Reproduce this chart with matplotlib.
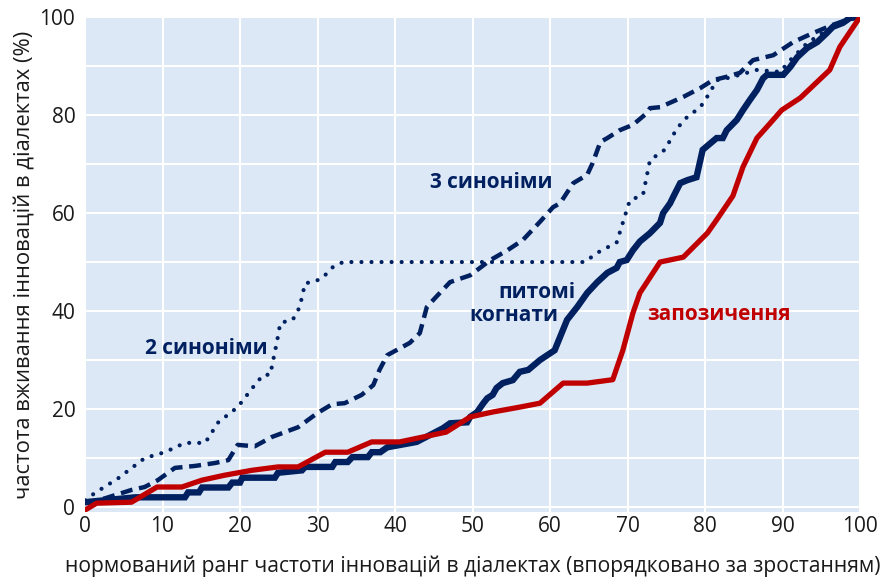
import matplotlib
matplotlib.use('Agg')
import matplotlib.pyplot as plt

plt.rcParams['font.family'] = ['Open Sans', 'DejaVu Sans']

# 2 синоніми (пунктир з крапок)
syn2_x = [0, 1.3, 4.3, 7.7, 10.3, 12.9, 15.5, 17.2, 19.7, 21.7, 23.0, 23.9, 24.8, 25.2, 26.8,
          27.7, 28.4, 29.4, 30.6, 32.0, 33.3, 64.5, 66.0, 68.6, 69.0, 69.9, 70.3, 72.0, 72.9,
          74.8, 76.4, 77.7, 79.4, 80.6, 81.5, 82.8, 84.5, 86.7, 89.7, 91.0, 93.2, 95.7, 98.7, 100]
syn2_y = [1.4, 2.9, 5.9, 10.0, 11.2, 13.1, 13.1, 17.3, 20.4, 24.5, 27.0, 27.0, 34.0, 37.6, 38.2,
          40.8, 45.7, 45.9, 46.7, 49.0, 50.0, 50.0, 51.8, 54.0, 56.0, 60.6, 62.6, 63.7, 70.8,
          72.9, 77.3, 79.6, 81.6, 84.5, 87.1, 87.5, 88.2, 89.2, 88.8, 91.2, 94.7, 97.3, 99.8, 100]

# 3 синоніми (штрихова)
syn3_x = [0, 2.6, 6.0, 7.7, 9.4, 11.6, 14.2, 16.8, 18.5, 19.7, 21.9, 24.1, 27.5, 30.0, 31.9,
          33.5, 35.7, 37.2, 38.0, 39.0, 41.9, 43.2, 44.1, 44.9, 47.1, 49.7, 52.3, 54.5, 56.5,
          58.7, 60.4, 61.3, 63.0, 64.8, 65.5, 66.5, 67.4, 69.0, 70.7, 72.5, 72.9, 74.2, 77.2,
          79.4, 81.0, 82.8, 84.5, 86.2, 88.8, 91.4, 93.9, 96.5, 99.0, 100]
syn3_y = [0.8, 1.8, 3.5, 4.1, 5.5, 8.0, 8.4, 9.0, 9.6, 12.7, 12.4, 14.3, 16.3, 19.2, 21.0,
          21.2, 22.9, 24.9, 28.0, 31.0, 33.5, 35.5, 40.8, 42.2, 45.9, 47.3, 50.4, 52.4, 54.5,
          58.2, 61.2, 62.0, 66.1, 67.8, 70.2, 74.5, 75.3, 76.9, 78.0, 80.4, 81.4, 81.6, 83.7,
          85.5, 87.1, 87.8, 88.6, 91.2, 92.2, 94.9, 96.7, 98.4, 99.8, 100]

# питомі когнати (суцільна, сходинками)
cog_x = [0, 6.5, 12.9, 13.3, 14.7, 15.1, 18.5, 19.0, 20.0, 20.3, 24.5, 24.9, 28.0, 28.4, 31.9,
         32.3, 33.9, 34.5, 36.5, 37.0, 38.1, 39.0, 42.8, 44.5, 46.2, 47.1, 49.3, 49.7, 50.6,
         51.4, 51.9, 52.6, 53.1, 53.9, 55.2, 56.1, 57.2, 58.7, 60.6, 62.2, 63.5, 64.8, 66.1,
         67.4, 68.6, 69.0, 69.9, 70.7, 71.6, 72.9, 74.2, 74.6, 75.5, 75.9, 76.8, 77.7, 78.9,
         79.7, 81.5, 82.3, 82.8, 84.1, 84.9, 85.8, 86.7, 87.5, 88.0, 90.1, 91.0, 91.9, 93.2,
         94.5, 95.7, 96.5, 97.8, 98.7, 100]
cog_y = [1.0, 2.0, 2.0, 3.0, 3.0, 4.0, 4.0, 5.0, 5.0, 6.0, 6.0, 7.0, 7.5, 8.2, 8.2,
         9.2, 9.2, 10.2, 10.2, 11.2, 11.2, 12.2, 13.3, 14.7, 16.1, 17.1, 17.3, 18.4, 19.4,
         21.2, 22.2, 22.9, 24.3, 25.3, 25.9, 27.6, 28.0, 30.0, 32.0, 38.2, 40.8, 43.7, 45.9,
         47.8, 48.8, 50.0, 50.4, 52.4, 54.2, 55.9, 58.0, 60.0, 62.0, 63.3, 66.1, 66.7, 67.3,
         72.9, 75.3, 75.3, 76.9, 79.0, 81.0, 83.1, 85.1, 87.5, 88.2, 88.2, 89.8, 91.8, 93.7,
         94.9, 96.7, 98.0, 98.8, 99.8, 100]

# запозичення (червона)
loan_x = [0, 1.5, 6.0, 9.3, 12.5, 15.1, 18.0, 21.5, 24.9, 27.5, 31.0, 33.9, 37.0, 40.6, 43.6,
          46.6, 49.7, 52.6, 56.1, 58.7, 61.7, 64.8, 68.1, 69.4, 70.7, 71.6, 74.2, 77.2, 80.3,
          81.5, 83.6, 84.9, 86.7, 88.0, 89.9, 92.3, 96.1, 97.4, 100]
loan_y = [-0.6, 0.8, 1.0, 4.1, 4.1, 5.5, 6.5, 7.5, 8.2, 8.2, 11.2, 11.2, 13.3, 13.3, 14.3,
          15.3, 18.4, 19.4, 20.4, 21.2, 25.3, 25.3, 26.0, 32.0, 39.6, 43.7, 50.0, 51.0, 55.9,
          58.6, 63.5, 69.4, 75.3, 77.6, 81.0, 83.5, 89.2, 93.9, 100]

navy = '#002060'
red = '#c00000'

fig = plt.figure(figsize=(8.89, 5.83), dpi=100)
ax = fig.add_axes([85 / 889, 1 - 512 / 583, 775 / 889, 495 / 583])
ax.set_facecolor('#dce8f5')

ax.plot(syn2_x, syn2_y, color=navy, lw=3.0, dashes=(0.01, 2.4),
        dash_capstyle='round', solid_joinstyle='round')
ax.plot(syn3_x, syn3_y, color=navy, lw=3.2, dashes=(2.7, 1.5))
ax.plot(cog_x, cog_y, color=navy, lw=4.6, solid_joinstyle='miter')
ax.plot(loan_x, loan_y, color=red, lw=3.8, solid_joinstyle='round')

ax.set_xlim(0, 100)
ax.set_ylim(-1, 100)
ax.set_xticks(range(0, 101, 10))
ax.set_yticks(range(0, 101, 20))
ax.set_yticks(range(0, 101, 10), minor=True)
ax.grid(True, which='both', color='white', lw=1.5)
ax.set_axisbelow(True)
ax.tick_params(which='both', length=0, labelsize=15, colors='#1a1a1a')
ax.tick_params(axis='y', pad=7)
ax.tick_params(axis='x', pad=3)
for s in ax.spines.values():
    s.set_visible(False)

ax.set_xlabel('нормований ранг частоти інновацій в діалектах (впорядковано за зростанням)',
              fontsize=15.2, color='#1a1a1a', labelpad=13)
ax.set_ylabel('частота вживання інновацій в діалектах (%)', fontsize=15.8,
              color='#1a1a1a', labelpad=3)

ax.text(44.5, 66.3, '3 синоніми', color=navy, fontsize=15, fontweight='bold', va='center')
ax.text(7.8, 32.4, '2 синоніми', color=navy, fontsize=15, fontweight='bold', va='center')
ax.text(58.3, 43.7, 'питомі', color=navy, fontsize=15, fontweight='bold', va='center', ha='center')
ax.text(55.3, 39.0, 'когнати', color=navy, fontsize=15, fontweight='bold', va='center', ha='center')
ax.text(72.5, 39.2, 'запозичення', color=red, fontsize=15, fontweight='bold', va='center')

fig.savefig('out.png', dpi=100)
